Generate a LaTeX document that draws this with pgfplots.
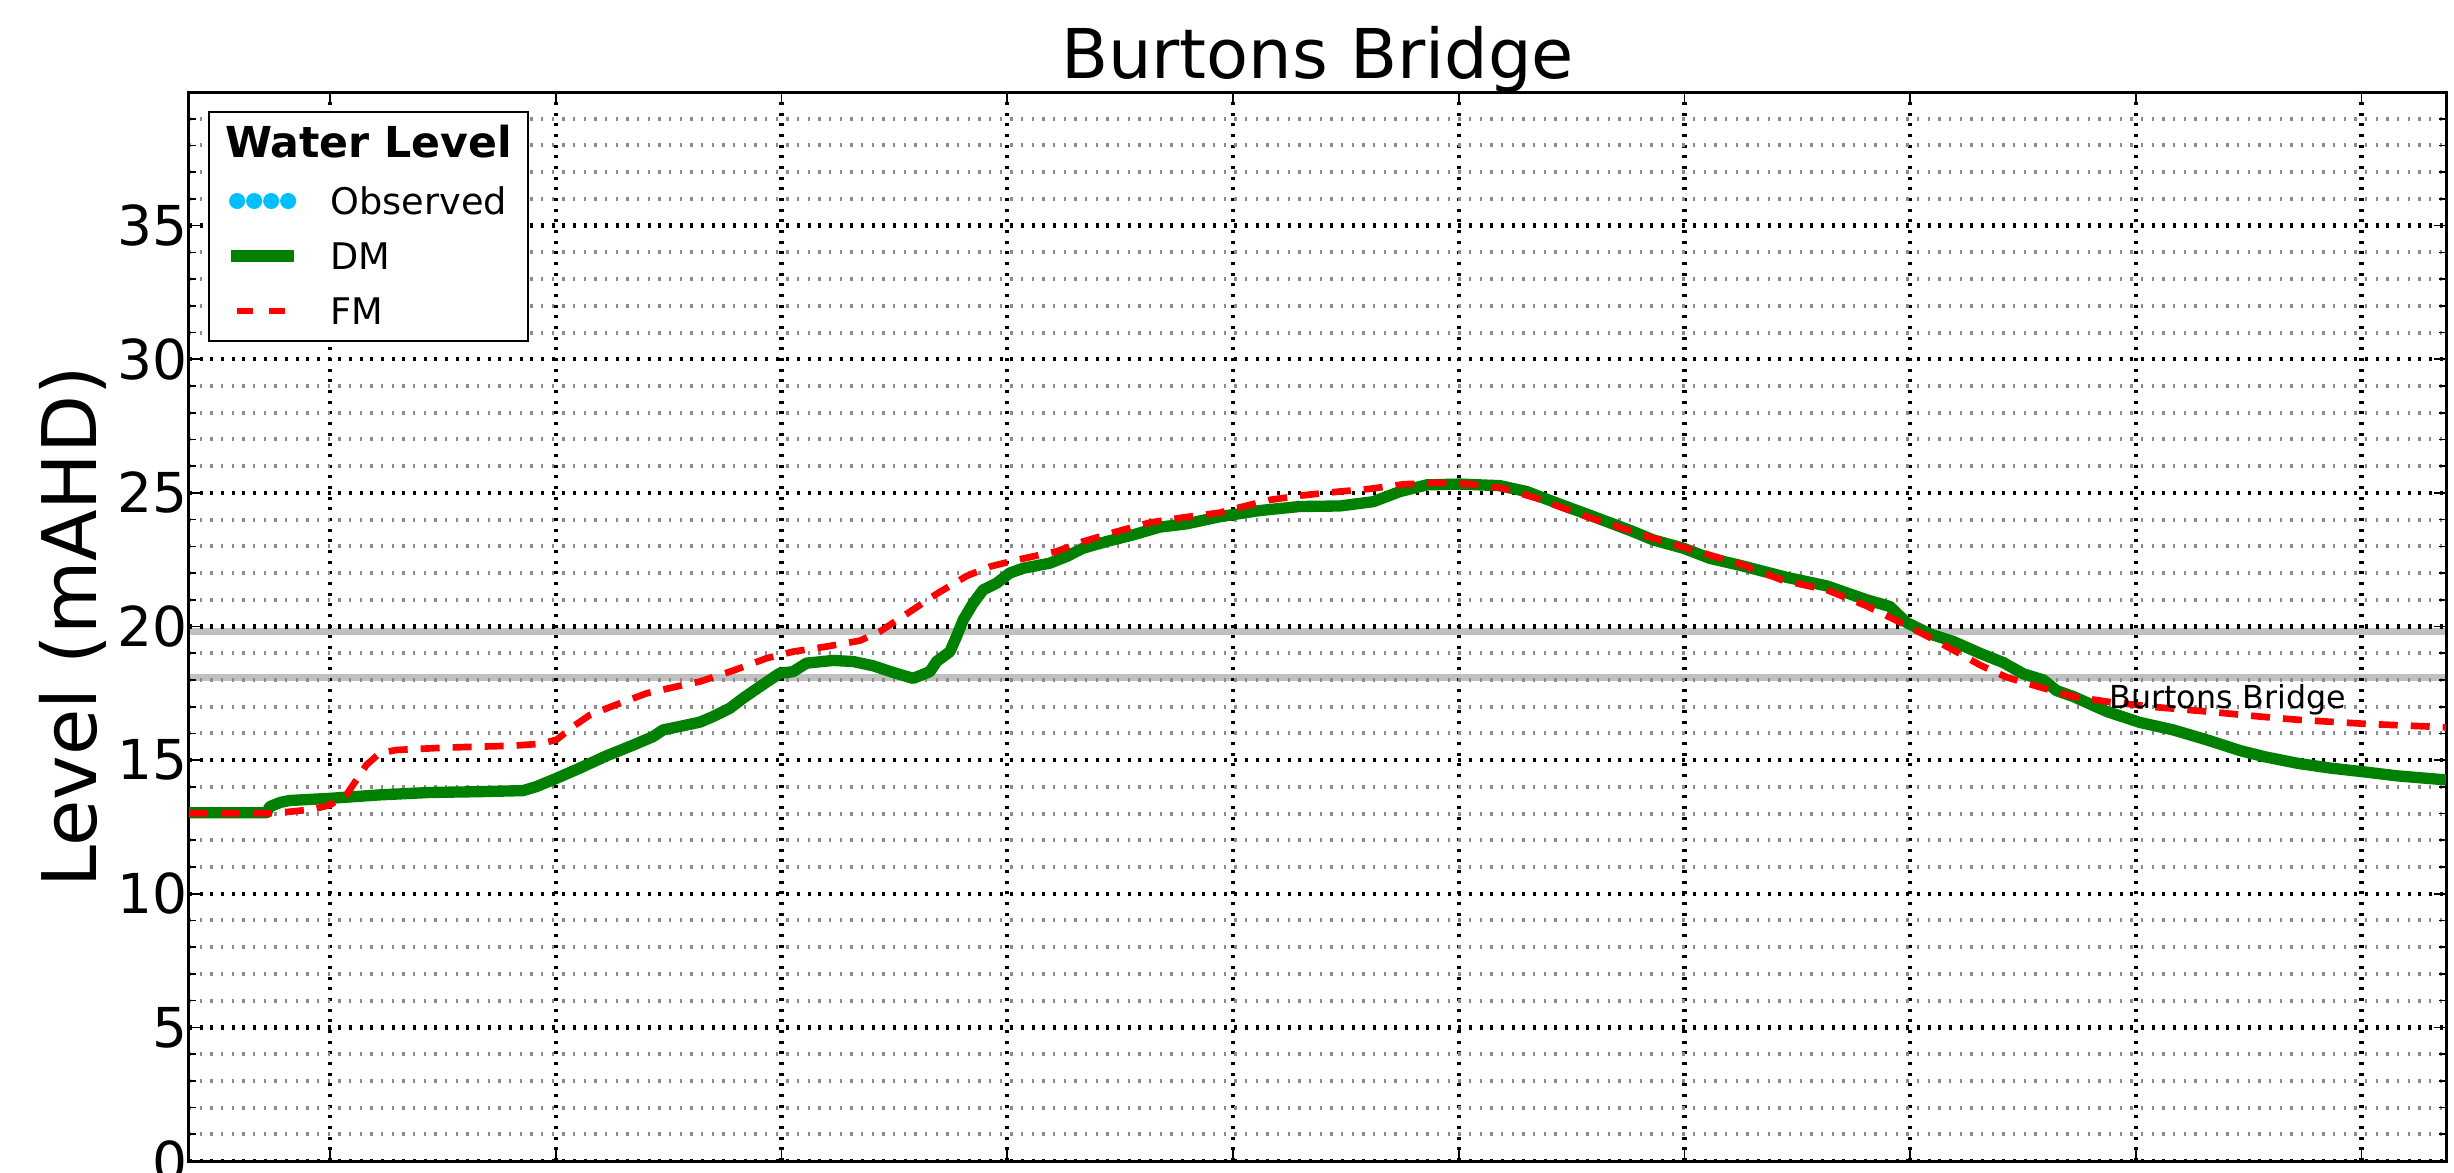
\documentclass[border=0pt]{standalone}
\usepackage{fontspec}
\setmainfont{DejaVu Sans}
\usepackage{pgfplots}
\pgfplotsset{compat=1.18}
\definecolor{dmgreen}{HTML}{008000}
\definecolor{fmred}{HTML}{FF0000}
\definecolor{obsblue}{HTML}{00BFFF}
\definecolor{bandgray}{HTML}{C0C0C0}
\definecolor{minorgray}{HTML}{8C8C8C}

\pgfplotstableread{
x y
0.375 13.03
0.718 13.03
0.733 13.26
0.780 13.42
0.821 13.49
0.999 13.57
1.220 13.70
1.442 13.79
1.663 13.82
1.855 13.86
1.914 14.01
2.003 14.32
2.106 14.70
2.224 15.16
2.328 15.51
2.431 15.88
2.475 16.13
2.549 16.26
2.638 16.42
2.697 16.63
2.771 16.94
2.830 17.32
2.904 17.75
2.992 18.25
3.051 18.31
3.111 18.63
3.229 18.73
3.317 18.69
3.406 18.53
3.495 18.28
3.583 18.06
3.657 18.31
3.687 18.69
3.746 19.06
3.775 19.62
3.805 20.25
3.849 20.87
3.893 21.37
3.953 21.62
4.011 22.00
4.071 22.18
4.189 22.37
4.263 22.62
4.336 22.93
4.440 23.18
4.558 23.43
4.676 23.72
4.794 23.84
4.942 24.11
5.119 24.34
5.296 24.49
5.474 24.51
5.621 24.67
5.740 25.05
5.858 25.30
6.005 25.33
6.183 25.27
6.301 25.05
6.419 24.67
6.537 24.30
6.655 23.93
6.773 23.55
6.862 23.24
6.995 22.93
7.113 22.55
7.246 22.29
7.453 21.84
7.630 21.52
7.807 21.00
7.910 20.75
7.984 20.15
8.088 19.72
8.191 19.44
8.309 19.00
8.413 18.65
8.501 18.23
8.590 18.00
8.649 17.60
8.723 17.38
8.871 16.82
9.018 16.41
9.166 16.13
9.314 15.76
9.461 15.36
9.569 15.13
9.717 14.88
9.864 14.70
10.012 14.56
10.160 14.41
10.374 14.26
}\dmtable

\pgfplotstableread{
x y
0.375 13.01
0.733 13.01
0.821 13.07
0.925 13.16
0.999 13.32
1.072 13.70
1.117 14.26
1.161 14.82
1.220 15.26
1.294 15.38
1.516 15.47
1.811 15.54
1.929 15.61
2.003 15.76
2.077 16.26
2.151 16.69
2.254 17.03
2.402 17.50
2.549 17.78
2.638 17.94
2.786 18.35
2.933 18.81
3.051 19.06
3.199 19.25
3.347 19.47
3.435 19.81
3.554 20.47
3.687 21.22
3.820 21.89
3.923 22.24
4.041 22.49
4.218 22.81
4.336 23.18
4.484 23.55
4.632 23.89
4.780 24.08
4.942 24.26
5.031 24.46
5.164 24.74
5.311 24.91
5.459 25.04
5.606 25.15
5.754 25.32
5.902 25.38
6.050 25.33
6.197 25.17
6.345 24.80
6.567 24.11
6.714 23.71
6.862 23.30
7.010 22.93
7.246 22.34
7.438 21.72
7.630 21.37
7.807 20.77
7.940 20.22
8.073 19.65
8.191 19.12
8.309 18.56
8.428 18.10
8.575 17.73
8.723 17.38
8.871 17.19
9.092 16.98
9.314 16.82
9.550 16.63
9.717 16.51
10.012 16.36
10.374 16.23
}\fmtable

\begin{document}
\begin{tikzpicture}
\begin{axis}[
  set layers,
  at={(0,0)}, anchor=south west,
  scale only axis, width=677.1pt, height=320.7pt,
  xmin=0.375, xmax=10.374, ymin=0, ymax=40,
  xtick={1,...,10}, xticklabels={},
  ytick={0,5,...,35},
  minor ytick={1,2,3,4,6,7,8,9,11,12,13,14,16,17,18,19,21,22,23,24,26,27,28,29,31,32,33,34,36,37,38,39},
  tick pos=both, tick align=inside,
  xmajorgrids, ymajorgrids, yminorgrids,
  major grid style={black, line width=1.3pt, dash pattern=on 0.9pt off 2.3pt},
  minor grid style={minorgray, line width=1.2pt, dash pattern=on 0.7pt off 2.5pt},
  major tick length=3.5pt, minor tick length=2pt,
  tick style={black, line width=0.5pt},
  axis line style={line width=0.9pt},
  /pgf/number format/assume math mode=true,
  yticklabel style={font=\fontsize{16.5}{19}\selectfont, inner sep=0pt, xshift=-0.3pt},
  every axis y label/.style={at={([xshift=-27.6pt]axis description cs:0,0.5)}, rotate=90, anchor=base, font=\fontsize{22.6}{26}\selectfont},
  ylabel={Level (mAHD)},
  every axis title/.style={at={(axis description cs:0.5,1)}, anchor=base, yshift=4.2pt, font=\fontsize{20.6}{24}\selectfont},
  title={Burtons Bridge},
  legend cell align=left,
  legend style={at={(axis description cs:0,1)}, anchor=north west, xshift=5.7pt, yshift=-5.6pt,
    draw=black, line width=0.7pt, fill=white,
    inner xsep=4.8pt, inner ysep=5pt, row sep=8.5pt, column sep=9.2pt,
    font=\fontsize{11}{13}\selectfont,
    nodes={inner sep=0pt, text height=8pt, text depth=0pt}},
]
\addlegendimage{legend image code/.code={\path (0pt,-4.9pt) (0pt,0pt);}}
\addlegendentry{\hspace*{-31.6pt}\raisebox{-0.7pt}{\fontsize{12.8}{15}\selectfont\bfseries Water Level}}
\addlegendimage{legend image code/.code={
    \path (0pt,0pt) (19pt,0pt);
    \fill[obsblue] (1.9pt,0pt) circle (2.05pt);
    \fill[obsblue] (7.0pt,0pt) circle (2.05pt);
    \fill[obsblue] (12.1pt,0pt) circle (2.05pt);
    \fill[obsblue] (17.2pt,0pt) circle (2.05pt);}}
\addlegendentry{Observed}

\addplot[bandgray, line width=2.1pt, forget plot, on layer=axis background] coordinates {(0.375,19.8) (10.374,19.8)};
\addplot[bandgray, line width=2.1pt, forget plot, on layer=axis background] coordinates {(0.375,18.1) (10.374,18.1)};

\addplot[dmgreen, line width=3.4pt, line join=round,
  legend image code/.code={\draw[dmgreen, line width=3.4pt] (0pt,0pt) -- (19pt,0pt);}]
  table[x=x, y=y] {\dmtable};
\addlegendentry{DM}

\addplot[fmred, line width=2.0pt, dash pattern=on 5.7pt off 3.9pt,
  legend image code/.code={\path (0pt,0pt) (19pt,0pt);
    \draw[fmred, line width=1.8pt] (1.8pt,0pt) -- (6.6pt,0pt);
    \draw[fmred, line width=1.8pt] (11.4pt,0pt) -- (16.2pt,0pt);}]
  table[x=x, y=y] {\fmtable};
\addlegendentry{FM}

\node[anchor=base west, inner sep=0pt, font=\fontsize{9.5}{11}\selectfont] at (axis cs:8.88,16.92) {Burtons Bridge};
\end{axis}
\pgfresetboundingbox
\useasboundingbox (-56.7pt,-3.3pt) rectangle (679.5pt,348.3pt);
\end{tikzpicture}
\end{document}
